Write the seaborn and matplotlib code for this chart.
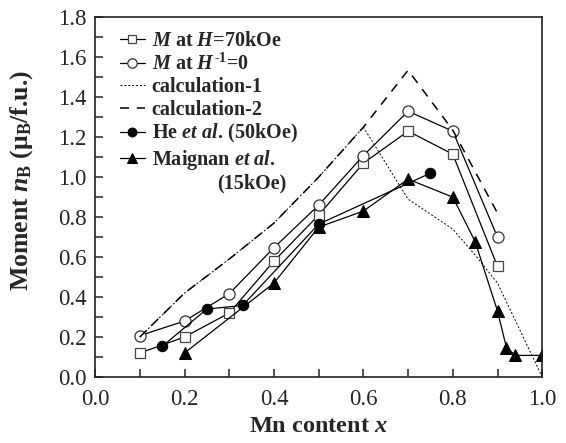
import numpy as np
import pandas as pd
import matplotlib
matplotlib.use("Agg")
import matplotlib.pyplot as plt
import seaborn as sns

# dati
x_sq = [0.1, 0.2, 0.3, 0.4, 0.5, 0.6, 0.7, 0.8, 0.9]
y_sq = [0.12, 0.20, 0.32, 0.58, 0.81, 1.07, 1.23, 1.115, 0.553]

x_ci = [0.1, 0.2, 0.3, 0.4, 0.5, 0.6, 0.7, 0.8, 0.9]
y_ci = [0.207, 0.28, 0.417, 0.647, 0.86, 1.108, 1.33, 1.23, 0.70]

x_calc1 = [0.1, 0.2, 0.3, 0.4, 0.5, 0.6, 0.7, 0.8, 0.85, 0.9, 1.0]
y_calc1 = [0.20, 0.42, 0.59, 0.77, 1.0, 1.25, 0.89, 0.74, 0.61, 0.47, 0.0]

x_calc2 = [0.1, 0.2, 0.3, 0.4, 0.5, 0.6, 0.7, 0.8, 0.9]
y_calc2 = [0.20, 0.42, 0.59, 0.77, 1.0, 1.25, 1.535, 1.235, 0.82]

x_he = [0.15, 0.25, 0.33, 0.5, 0.75]
y_he = [0.153, 0.34, 0.358, 0.765, 1.02]

x_mai = [0.2, 0.4, 0.5, 0.6, 0.7, 0.8, 0.85, 0.9, 0.92, 0.94, 1.0]
y_mai = [0.12, 0.47, 0.75, 0.83, 0.99, 0.90, 0.677, 0.33, 0.147, 0.108, 0.108]

labels = [r'$M$ at $H$=70kOe',
          r'$M$ at $H^{\text{-1}}$=0',
          'calculation-1',
          'calculation-2',
          r'He $et\ al.\,$(50kOe)',
          r'Maignan $et\ al.$']

sns.set_style("ticks")
plt.rcParams['font.family'] = ['Liberation Serif', 'DejaVu Serif']
plt.rcParams['mathtext.fontset'] = 'custom'
plt.rcParams['mathtext.rm'] = 'Liberation Serif:bold'
plt.rcParams['mathtext.it'] = 'Liberation Serif:italic:bold'
plt.rcParams['mathtext.bf'] = 'Liberation Serif:bold'

fig = plt.figure(figsize=(5.66, 4.43), dpi=100)
ax = fig.add_axes([0.168, 0.149, 0.79, 0.812])

lw = 0.9
sns.lineplot(x=x_sq, y=y_sq, ax=ax, sort=False, estimator=None, color='black', lw=lw,
             marker='s', ms=7.5, mfc='white', mec='#444444', mew=0.9, label=labels[0])
sns.lineplot(x=x_ci, y=y_ci, ax=ax, sort=False, estimator=None, color='black', lw=lw,
             marker='o', ms=8, mfc='white', mec='#333333', mew=0.9, label=labels[1])
sns.lineplot(x=x_calc1, y=y_calc1, ax=ax, sort=False, estimator=None, color='black', lw=0.7,
             linestyle=(0, (2, 2)), label=labels[2])
sns.lineplot(x=x_calc2, y=y_calc2, ax=ax, sort=False, estimator=None, color='black', lw=1.1,
             linestyle=(0, (6, 5)), label=labels[3])
sns.lineplot(x=x_he, y=y_he, ax=ax, sort=False, estimator=None, color='black', lw=lw,
             marker='o', ms=7.5, mfc='black', mec='black', label=labels[4])
sns.lineplot(x=x_mai, y=y_mai, ax=ax, sort=False, estimator=None, color='black', lw=lw,
             marker='^', ms=8, mfc='black', mec='black', label=labels[5])

ax.set_xlim(0.0, 1.0)
ax.set_ylim(0.0, 1.8)
ax.set_xticks(np.arange(0, 1.01, 0.2))
ax.set_xticks(np.arange(0, 1.01, 0.1), minor=True)
ax.set_yticks(np.arange(0, 1.81, 0.2))
ax.set_yticks(np.arange(0, 1.81, 0.1), minor=True)
ax.xaxis.set_major_formatter(matplotlib.ticker.FormatStrFormatter('%.1f'))
ax.yaxis.set_major_formatter(matplotlib.ticker.FormatStrFormatter('%.1f'))
ax.tick_params(which='both', direction='in', top=False, right=False, labelsize=16.5,
               color='#222222')
ax.tick_params(axis='x', pad=9)
ax.tick_params(axis='y', pad=6)
ax.tick_params(which='major', length=6, width=1.1)
ax.tick_params(which='minor', length=6, width=1.1)
for s in ax.spines.values():
    s.set_linewidth(1.2)
    s.set_color('#222222')

ax.set_xlabel(r'Mn content $x$', fontsize=17.5, fontweight='bold', labelpad=4)
ax.set_ylabel(r'Moment $n_{\mathrm{B}}$ ($\mathrm{\mu_B}$/f.u.)', fontsize=18.5,
              fontweight='bold')
ax.yaxis.set_label_coords(-0.135, 0.545)

leg = ax.legend(loc='upper left', bbox_to_anchor=(0.025, 1.0), frameon=False,
                prop={'weight': 'bold', 'size': 14.5}, handlelength=1.2,
                handletextpad=0.35, labelspacing=0.12, borderaxespad=0.3,
                markerscale=0.85)

# seconda riga dell'etichetta Maignan
ax.text(0.273, 0.537, '(15kOe)', transform=ax.transAxes, fontsize=14.5,
        fontweight='bold', ha='left', va='center')

plt.savefig('out.png', dpi=100)
plt.close()
